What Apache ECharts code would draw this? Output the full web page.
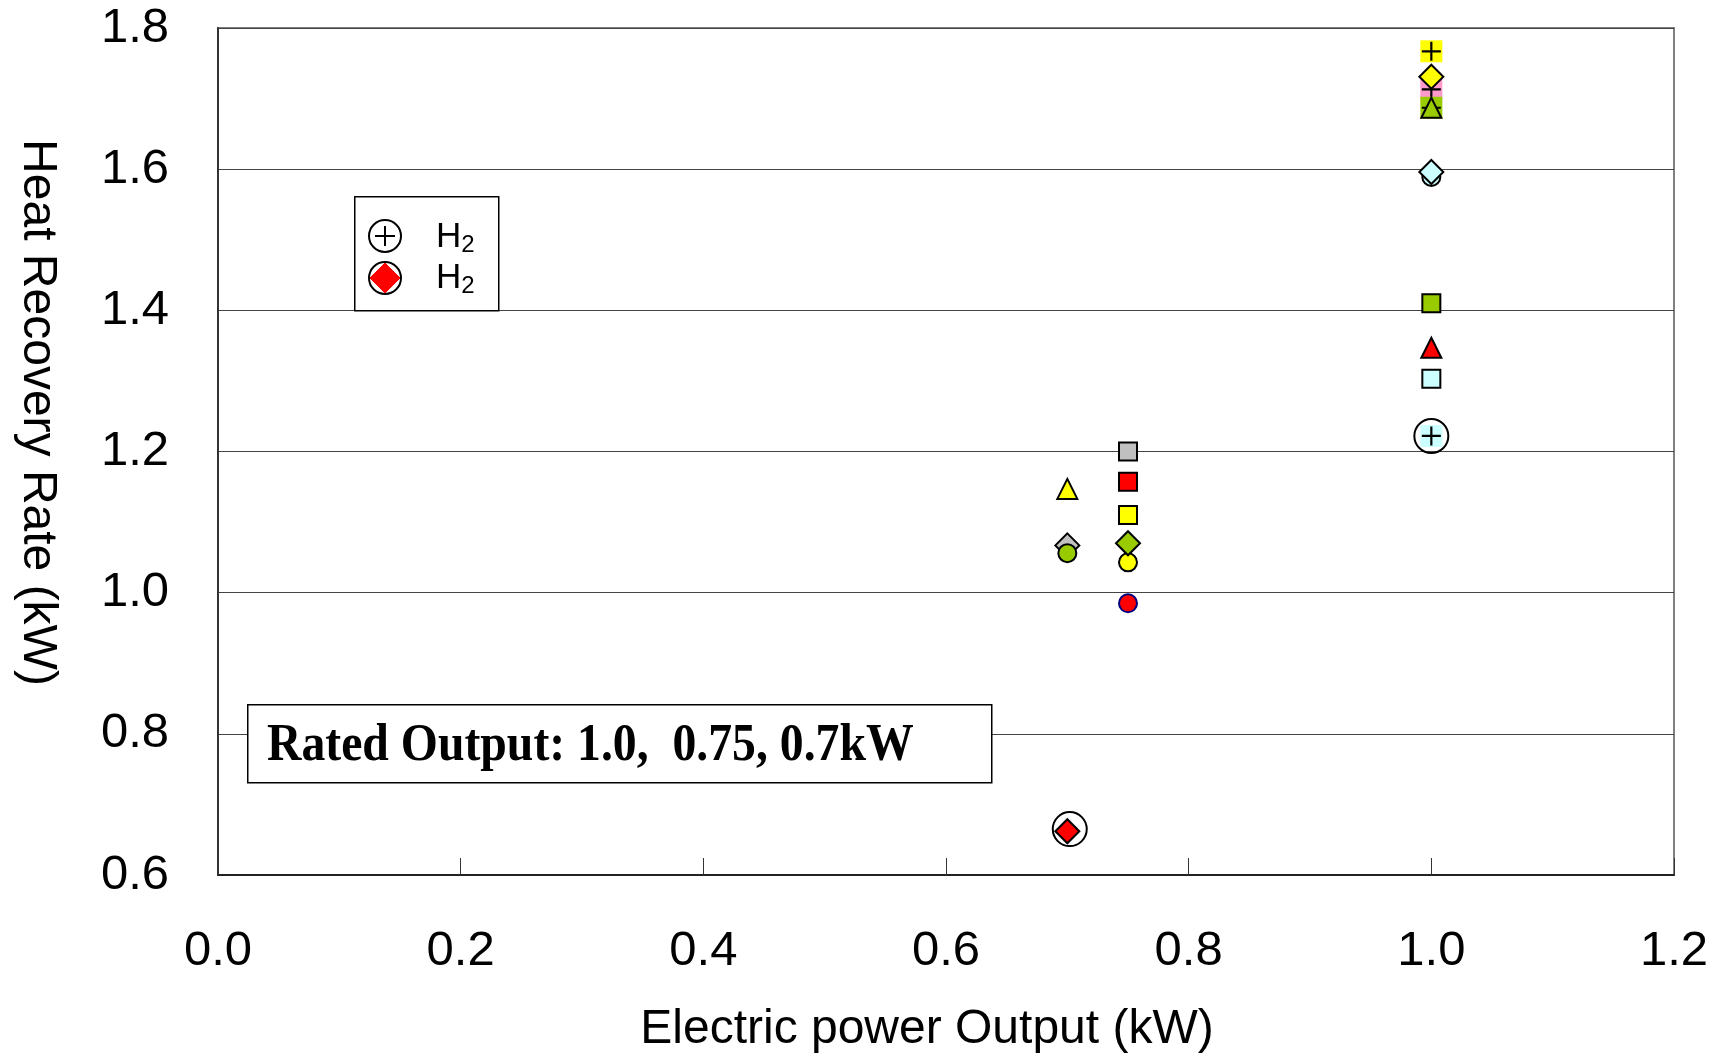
<!DOCTYPE html>
<html>
<head>
<meta charset="utf-8">
<script src="https://cdn.jsdelivr.net/npm/echarts@6/dist/echarts.min.js"></script>
<style>html,body{margin:0;padding:0;background:#fff;}#c{width:1711px;height:1055px;}</style>
</head>
<body>
<div id="c"></div>
<script>
// ---- data (x = electric power output kW, y = heat recovery rate kW) ----
const xTickValues = [0.0, 0.2, 0.4, 0.6, 0.8, 1.0, 1.2];
const yTickValues = [0.6, 0.8, 1.0, 1.2, 1.4, 1.6, 1.8];
const xAxisTitle = 'Electric power Output (kW)';
const yAxisTitle = 'Heat Recovery Rate (kW)';
const noteText = 'Rated Output: 1.0,  0.75, 0.7kW';
const legendLabels = ['H2', 'H2'];

const pinkPlus = [[1.0, 1.713]];
const greenPlus = [[1.0, 1.687]];
const yellowPlus = [[1.0, 1.767]];
const cyanPlus = [[1.0, 1.222]];
const greenTriangle = [[1.0, 1.687]];
const yellowDiamond = [[1.0, 1.731]];
const cyanCircle = [[1.0, 1.589]];
const cyanDiamond = [[1.0, 1.596]];
const greenSquare = [[1.0, 1.410]];
const redTriangle = [[1.0, 1.347]];
const cyanSquare = [[1.0, 1.303]];
const graySquare = [[0.75, 1.200]];
const redSquare = [[0.75, 1.157]];
const yellowSquare = [[0.75, 1.110]];
const yellowCircle = [[0.75, 1.043]];
const greenDiamond = [[0.75, 1.070]];
const redCircle = [[0.75, 0.985]];
const yellowTriangle = [[0.7, 1.147]];
const grayDiamond = [[0.7, 1.067]];
const greenCircle = [[0.7, 1.056]];
const redDiamond = [[0.7, 0.662]];
const h2PlusRing = [[1.0, 1.222]];
const h2DiamondRing = [[0.702, 0.665]];

// ---- styling ----
const PLUS = 'path://M0,10L20,10M10,0L10,20';
const C = {yellow:'#FFFF00', green:'#99CC00', red:'#FF0000', cyan:'#CCFFFF', gray:'#C0C0C0', pink:'#FF99CC'};

function mark(name, data, symbol, size, fill, border, bw) {
  return {
    name: name, type: 'scatter', data: data, symbol: symbol, symbolSize: size,
    itemStyle: {color: fill, borderColor: border || '#000', borderWidth: bw === undefined ? 2 : bw, opacity: 1},
    emphasis: {disabled: true}, silent: true
  };
}
function plusMark(name, data, bg) {
  return [
    mark(name + ' bg', data, 'rect', 22, bg, bg, 0),
    mark(name, data, PLUS, 19, 'rgba(0,0,0,0)', '#000', 2.2)
  ];
}

const series = [].concat(
  plusMark('pink', pinkPlus, C.pink),
  plusMark('greenbg', greenPlus, C.green),
  [mark('green triangle', greenTriangle, 'triangle', 20, C.green)],
  plusMark('yellowbg', yellowPlus, C.yellow),
  [mark('yellow diamond', yellowDiamond, 'diamond', 24, C.yellow)],
  [mark('cyan circle', cyanCircle, 'circle', 18, C.cyan)],
  [mark('cyan diamond', cyanDiamond, 'diamond', 24, C.cyan)],
  [mark('green square', greenSquare, 'rect', 18, C.green)],
  [mark('red triangle', redTriangle, 'triangle', 20, C.red)],
  [mark('cyan square', cyanSquare, 'rect', 18, C.cyan)],
  plusMark('cyanbg', cyanPlus, C.cyan),
  [mark('gray square', graySquare, 'rect', 18, C.gray)],
  [mark('red square', redSquare, 'rect', 18, C.red)],
  [mark('yellow square', yellowSquare, 'rect', 18, C.yellow)],
  [mark('yellow circle', yellowCircle, 'circle', 18, C.yellow)],
  [mark('green diamond', greenDiamond, 'diamond', 24, C.green)],
  [mark('red circle', redCircle, 'circle', 18, C.red, '#000080', 2)],
  [mark('yellow triangle', yellowTriangle, 'triangle', 20, C.yellow)],
  [mark('gray diamond', grayDiamond, 'diamond', 24, C.gray)],
  [mark('green circle', greenCircle, 'circle', 18, C.green)],
  [mark('red diamond', redDiamond, 'diamond', 24, C.red)],
  [mark('H2 ring a', h2PlusRing, 'circle', 34, 'rgba(0,0,0,0)', '#000', 2)],
  [mark('H2 ring b', h2DiamondRing, 'circle', 34, 'rgba(0,0,0,0)', '#000', 2)]
);

const FONT = '"Liberation Sans", Arial, sans-serif';
const chart = echarts.init(document.getElementById('c'), null, {renderer: 'canvas'});

function subText(label) {
  return '{m|' + label.charAt(0) + '}{s|' + label.slice(1) + '}';
}
const richSub = {
  m: {fontSize: 35, fontFamily: FONT, color: '#000'},
  s: {fontSize: 24, fontFamily: FONT, color: '#000', padding: [16, 0, 0, 0]}
};

chart.setOption({
  animation: false,
  backgroundColor: '#fff',
  grid: {left: 218, top: 28, right: 37, bottom: 180, outerBoundsMode: 'none', containLabel: false,
         show: true, borderColor: '#808080', borderWidth: 2, backgroundColor: 'transparent'},
  xAxis: {
    type: 'value', min: xTickValues[0], max: xTickValues[xTickValues.length - 1], interval: 0.2,
    name: xAxisTitle, nameLocation: 'middle', nameGap: 131,
    nameTextStyle: {fontSize: 48, fontFamily: FONT, color: '#000', padding: [0, 38, 0, 0]},
    axisLine: {show: true, onZero: false, lineStyle: {color: '#222', width: 2}},
    axisTick: {show: true, inside: true, length: 17, lineStyle: {color: '#333', width: 1}},
    splitLine: {show: false},
    axisLabel: {fontSize: 49, fontFamily: FONT, color: '#000', margin: 52, formatter: v => v.toFixed(1)}
  },
  yAxis: {
    type: 'value', min: yTickValues[0], max: yTickValues[yTickValues.length - 1], interval: 0.2,
    name: yAxisTitle, nameLocation: 'middle', nameGap: 157, nameRotate: -90,
    nameTextStyle: {fontSize: 48, fontFamily: FONT, color: '#000', padding: [0, 78, 0, 0]},
    axisLine: {show: true, onZero: false, lineStyle: {color: '#333', width: 2}},
    axisTick: {show: false},
    splitLine: {show: true, lineStyle: {color: '#444', width: 1.2}},
    axisLabel: {fontSize: 49, fontFamily: FONT, color: '#000', margin: 49, formatter: v => v.toFixed(1)}
  },
  series: series,
  graphic: [
    {type: 'rect', left: 354, top: 196, z: 50, shape: {width: 144, height: 114},
     style: {fill: '#fff', stroke: '#000', lineWidth: 1.5}},
    {type: 'circle', z: 51, shape: {cx: 385, cy: 236, r: 16}, style: {fill: '#fff', stroke: '#000', lineWidth: 2}},
    {type: 'line', z: 52, shape: {x1: 375, y1: 236, x2: 395, y2: 236}, style: {stroke: '#000', lineWidth: 2}},
    {type: 'line', z: 52, shape: {x1: 385, y1: 226, x2: 385, y2: 246}, style: {stroke: '#000', lineWidth: 2}},
    {type: 'circle', z: 51, shape: {cx: 385, cy: 278, r: 16}, style: {fill: '#fff', stroke: '#000', lineWidth: 2}},
    {type: 'polygon', z: 52, shape: {points: [[385, 263], [400, 278], [385, 293], [370, 278]]}, style: {fill: '#FF0000', stroke: '#FF0000', lineWidth: 1}},
    {type: 'text', z: 52, left: 436, top: 220, style: {text: subText(legendLabels[0]), rich: richSub}},
    {type: 'text', z: 52, left: 436, top: 261, style: {text: subText(legendLabels[1]), rich: richSub}},
    {type: 'rect', left: 247, top: 704, z: 50, shape: {width: 744, height: 78},
     style: {fill: '#fff', stroke: '#000', lineWidth: 1.5}},
    {type: 'text', z: 52, x: 267, y: 746, scaleX: 0.9,
     style: {text: noteText, fontSize: 53, fontWeight: 'bold', fontFamily: '"Liberation Serif", "Times New Roman", serif', fill: '#000', verticalAlign: 'middle', align: 'left'}}
  ]
});
</script>
</body>
</html>
